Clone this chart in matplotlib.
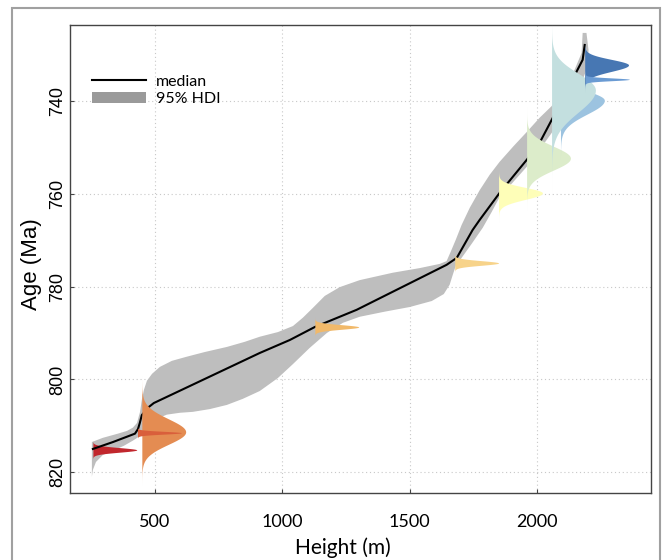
import numpy as np
import matplotlib
matplotlib.use("Agg")
import matplotlib.pyplot as plt
from matplotlib.lines import Line2D
from matplotlib.patches import Patch, Rectangle

# median of the age-height model
median_height = [257, 336, 422, 434, 441, 449, 473, 496, 912, 1030, 1128, 1292,
                 1645, 1685, 1747, 1775, 1853, 1959, 2010, 2057, 2179, 2187]
median_age = [815.0, 813.5, 811.7, 810.7, 809.4, 807.7, 806.1, 805.1, 794.3, 791.5, 788.7, 785.0,
              775.3, 773.8, 767.8, 765.6, 759.8, 752.7, 749.0, 744.1, 731.1, 727.9]

# 95% HDI envelope, young edge (base -> top) then old edge (top -> base)
hdi_young_height = [253, 296, 355, 391, 414, 430, 442, 449, 457, 469, 489, 520, 567, 626, 696,
                    783, 853, 912, 983, 1042, 1081, 1120, 1167, 1226, 1304, 1434, 1540, 1618,
                    1645, 1661, 1681, 1704, 1736, 1775, 1814, 1853, 1908, 1959, 2010, 2057,
                    2108, 2147, 2175, 2179]
hdi_young_age = [813.5, 812.6, 811.7, 811.1, 810.4, 809.4, 807.0, 804.4, 802.3, 800.3, 798.8,
                 797.3, 796.0, 795.1, 794.1, 793.0, 791.9, 790.8, 789.8, 788.5, 786.7, 784.6,
                 782.0, 780.1, 778.6, 777.0, 776.0, 775.1, 774.5, 772.5, 769.9, 766.7, 763.0,
                 759.2, 755.9, 753.1, 749.7, 746.7, 743.6, 741.1, 737.2, 733.3, 729.6, 725.3]
hdi_old_height = [2194, 2202, 2198, 2171, 2136, 2096, 2057, 2010, 1959, 1904, 1853, 1822, 1787,
                  1743, 1704, 1681, 1669, 1657, 1634, 1587, 1500, 1402, 1304, 1238, 1175, 1108,
                  1042, 983, 912, 845, 783, 716, 649, 598, 547, 508, 481, 457, 442, 414, 379,
                  343, 296, 269, 257, 253]
hdi_old_age = [725.3, 729.0, 732.7, 736.5, 739.8, 743.4, 746.9, 750.5, 754.2, 757.6, 760.7,
               763.9, 767.3, 770.8, 773.8, 775.5, 777.5, 779.6, 781.6, 783.1, 784.4, 785.4,
               786.5, 787.8, 790.0, 793.2, 796.7, 799.7, 802.5, 804.2, 805.5, 806.4, 807.0,
               807.2, 807.6, 808.5, 809.8, 811.1, 812.2, 813.2, 814.3, 815.2, 816.3, 817.8,
               819.5, 821.0]

# dated horizons: stratigraphic height, posterior age (mode, spread above / below)
sample_height = [257, 449, 432, 1128, 1677, 1849, 1959, 2092, 2057, 2187, 2190]
sample_age = [815.2, 811.3, 811.5, 788.7, 774.9, 759.8, 752.3, 739.8, 737.6, 732.2, 735.3]
sample_sd_young = [0.5, 2.8, 0.3, 0.5, 0.5, 1.2, 2.6, 2.0, 3.6, 1.2, 0.3]
sample_sd_old = [0.5, 2.7, 0.3, 0.5, 0.5, 1.4, 2.6, 3.0, 4.8, 1.4, 0.3]
sample_color = ["#c1272d", "#e48c52", "#d95f3b", "#f1b96a", "#f7d38a", "#fefeb8",
                "#dcecca", "#9cc3e0", "#c3dfdf", "#4777b3", "#6a9bd3"]

peak_width = 172  # violin width in metres

sans = ["Lato", "DejaVu Sans"]
arial = ["Liberation Sans", "DejaVu Sans"]

fig = plt.figure(figsize=(6.62, 5.60), dpi=100)
ax = fig.add_axes([0.1057, 0.1196, 0.8776, 0.8357])

# outer frame of the panel
fig.patches.append(Rectangle((0.018, -0.05), 0.979, 1.036, transform=fig.transFigure,
                             fill=False, edgecolor="#a0a0a0", linewidth=1.5))

ax.fill(hdi_young_height + hdi_old_height, hdi_young_age + hdi_old_age,
        color="#bebebe", linewidth=0, zorder=1)

for i, (h, mu, s_y, s_o, c) in enumerate(zip(sample_height, sample_age, sample_sd_young,
                                              sample_sd_old, sample_color)):
    ages = np.linspace(mu - 5 * s_y, mu + 5 * s_o, 400)
    s = np.where(ages < mu, s_y, s_o)
    dens = np.exp(-0.5 * ((ages - mu) / s) ** 2)
    ax.fill_betweenx(ages, h, h + peak_width * dens, color=c, linewidth=0,
                     zorder=2 if i == 0 else 4)

ax.plot(median_height, median_age, color="black", linewidth=1.5, zorder=3)

ax.set_xlim(167, 2447)
ax.set_ylim(824.5, 723.6)
ax.set_xticks([500, 1000, 1500, 2000])
ax.set_yticks([740, 760, 780, 800, 820])
ax.grid(True, linestyle=(0, (1, 2.5)), color="#c8c8c8", linewidth=0.8)
ax.set_axisbelow(True)

for sp in ax.spines.values():
    sp.set_color("#444444")
    sp.set_linewidth(1.0)

ax.tick_params(axis="both", direction="in", length=3, color="#444444")
ax.tick_params(axis="x", pad=15)
ax.tick_params(axis="y", pad=3)
for lab in ax.get_xticklabels():
    lab.set_family(sans)
    lab.set_fontsize(13)
for lab in ax.get_yticklabels():
    lab.set_family(arial)
    lab.set_fontsize(13)
    lab.set_rotation(90)
    lab.set_va("center")

ax.set_xlabel("Height (m)", family=sans, fontsize=15)
ax.xaxis.set_label_coords(0.47, -0.094)
ax.set_ylabel("Age (Ma)", family=arial, fontsize=16)
ax.yaxis.set_label_coords(-0.048, 0.49)

handles = [Line2D([], [], color="black", linewidth=1.5),
           Patch(facecolor="#9a9a9a", edgecolor="none")]
ax.legend(handles, ["median", "95% HDI"], loc="upper left", bbox_to_anchor=(0.013, 0.925),
          frameon=False, handlelength=3.4, handletextpad=0.6, labelspacing=0.2,
          prop={"family": sans, "size": 11.5})

fig.savefig("out.png", dpi=100)
